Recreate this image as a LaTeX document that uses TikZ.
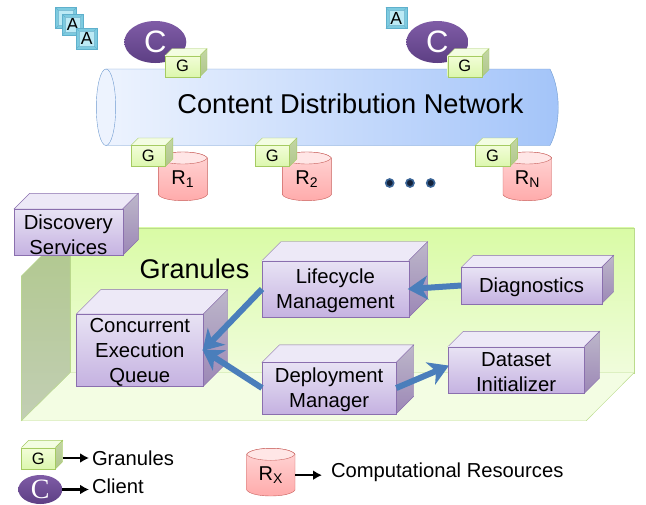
\documentclass[tikz,border=0pt]{standalone}
\usepackage{fontspec}
\setmainfont{Liberation Sans}
\newfontfamily\legendserif{Liberation Serif}
\usetikzlibrary{arrows.meta,shapes.geometric}

\definecolor{cubeline}{HTML}{8A6FAE}
\definecolor{gline}{HTML}{A5CB62}
\definecolor{redline}{HTML}{C8605C}
\definecolor{wallline}{HTML}{BBDB8C}
\definecolor{arrblue}{HTML}{4A7EBB}
\definecolor{tubeline}{HTML}{6F9BD0}
\definecolor{tubeleft}{HTML}{EDF3FE}
\definecolor{tuberight}{HTML}{A3C4F9}
\definecolor{clienttop}{HTML}{7F5CA6}
\definecolor{clientbot}{HTML}{5D3F84}
\definecolor{redtop}{HTML}{FFD8D8}
\definecolor{redbot}{HTML}{FFA9A9}
\definecolor{redcap}{HTML}{FFE6E6}
\definecolor{walltop}{HTML}{D9FBA5}
\definecolor{wallbot}{HTML}{F0FCDC}
\definecolor{floorfill}{HTML}{F3FDE3}
\definecolor{sidetop}{HTML}{B0C88C}
\definecolor{sidebot}{HTML}{C2CEB4}
\definecolor{dotblue}{HTML}{3A6496}
\definecolor{dotdark}{HTML}{14233C}

% name, left, top, right, bottom, depth, box colour, text
\newcommand{\cubenode}[8]{
  \filldraw[draw=#7line, fill=#7top] (#2,#3) -- (#2+#6,#3-#6) -- (#4+#6,#3-#6) -- (#4,#3) -- cycle;
  \shadedraw[draw=#7line, top color=#7sidea, bottom color=#7sideb] (#4,#3) -- (#4+#6,#3-#6) -- (#4+#6,#5-#6) -- (#4,#5) -- cycle;
  \node[cube=#7, minimum width={(#4-(#2))*1pt}, minimum height={(#5-(#3))*1pt}] (#1) at ({(#2+#4)/2},{(#3+#5)/2}) {};
  \node[#7text] (#1text) at (#1) {#8};
}
% name, left, top, width, height, text
\newcommand{\cylnode}[6]{
  \shadedraw[draw=redline, top color=redtop, bottom color=redbot]
    (#2,#3+6) -- (#2,#3+#5-6) .. controls (#2+5,#3+#5+2) and (#2+#4-5,#3+#5+2) .. (#2+#4,#3+#5-6)
    -- (#2+#4,#3+6) .. controls (#2+#4-5,#3-2) and (#2+5,#3-2) .. (#2,#3+6) -- cycle;
  \filldraw[draw=redline, fill=redcap] (#2,#3+6) .. controls (#2+5,#3-2) and (#2+#4-5,#3-2) .. (#2+#4,#3+6)
    .. controls (#2+#4-5,#3+14) and (#2+5,#3+14) .. (#2,#3+6) -- cycle;
  \node[cyl, minimum width=#4*1pt, minimum height=#5*1pt] (#1) at (#2+#4/2,#3+#5/2) {#6};
}
% name, centre x, centre y, text
\newcommand{\appnode}[4]{
  \node[appout] (#1) at (#2,#3) {};
  \node[appin] (#1in) at (#2,#3) {#4};
  \draw[draw=appline] (#1.north west) -- (#1in.north west) (#1.north east) -- (#1in.north east)
    (#1.south west) -- (#1in.south west) (#1.south east) -- (#1in.south east);
}

\colorlet{pboxline}{cubeline}
\definecolor{pboxtop}{HTML}{EDE9F7}
\definecolor{pboxsidea}{HTML}{BDB7CA}
\definecolor{pboxsideb}{HTML}{9C87B6}
\definecolor{pboxfronta}{HTML}{E8E3F4}
\definecolor{pboxfrontb}{HTML}{C5B2E1}
\colorlet{gboxline}{gline}
\definecolor{gboxtop}{HTML}{F3FDE2}
\definecolor{gboxsidea}{HTML}{C3D6A4}
\definecolor{gboxsideb}{HTML}{B0C68C}
\definecolor{gboxfronta}{HTML}{F2FDD8}
\definecolor{gboxfrontb}{HTML}{DCF7AE}
\definecolor{appline}{HTML}{5FB0CC}
\definecolor{appouter}{HTML}{7DCBE0}
\definecolor{appinner}{HTML}{BCEAF5}

\begin{document}
\begin{tikzpicture}[
  x=1pt, y=-1pt,
  cube/.style = {
    rectangle,
    draw=#1line,
    top color=#1fronta,
    bottom color=#1frontb,
    inner sep=0pt,
    outer sep=0pt
  },
  pboxtext/.style = {inner sep=0pt, align=center, yshift=-2.2pt, font=\fontsize{20.3}{25}\selectfont},
  gboxtext/.style = {inner sep=0pt, align=center, font=\fontsize{16.5}{17}\selectfont},
  big/.style = {font=\fontsize{20.2}{25}\selectfont},
  cyl/.style = {inner sep=0pt, outer sep=0pt, font=\fontsize{20}{22}\selectfont, yshift=-3pt},
  client/.style = {
    ellipse,
    draw=none,
    top color=clienttop,
    bottom color=clientbot,
    text=white,
    inner sep=0pt,
    outer sep=0pt,
    font=\fontsize{31}{31}\selectfont
  },
  appout/.style = {rectangle, draw=appline, fill=appouter, minimum size=21pt, inner sep=0pt, outer sep=0pt},
  appin/.style = {rectangle, draw=appline!80!white, fill=appinner, minimum size=15pt, inner sep=0pt, outer sep=0pt, font=\fontsize{17.5}{17.5}\selectfont},
  thick arr/.style = {line width=6pt, draw=arrblue, -{Stealth[length=20pt, width=24pt, inset=6pt]}, shorten >=-1pt},
  leg arr/.style = {line width=2.2pt, -{Latex[length=9pt, width=10pt]}},
  plain/.style = {inner sep=0pt, outer sep=0pt}
  ]
  \useasboundingbox (0,0) rectangle (646,504);

  % apps and clients
  \appnode{appa}{66}{18}{}
  \appnode{appb}{72.7}{24.7}{A}
  \appnode{appc}{86.7}{38.5}{A}
  \appnode{appd}{396.3}{18}{A}
  \node[client, minimum width=62pt, minimum height=42pt] (clienta) at (155.3,42) {C};
  \node[client, minimum width=62pt, minimum height=42pt] (clientb) at (437.3,42) {C};

  % network tube
  \shadedraw[draw=tubeline, left color=tubeleft, right color=tuberight]
    (106,69) -- (550,69) .. controls (561,90) and (561,125) .. (550,145.5) -- (106,145.5) -- cycle;
  \filldraw[draw=tubeline, fill=tubeleft] (106,107.25) ellipse [x radius=9.7, y radius=38.25];
  \node[plain, font=\fontsize{27.2}{30}\selectfont] (cdn) at (350.5,104) {Content Distribution Network};

  % resources
  \cylnode{resa}{158.3}{152}{49}{48.7}{R\textsubscript{1}}
  \cylnode{resb}{282.3}{152}{49}{48.7}{R\textsubscript{2}}
  \cylnode{resn}{503}{152}{48.7}{48.7}{R\textsubscript{N}}
  \foreach \dotx/\dotname in {389.7/dota, 410/dotb, 430.7/dotc}
    \node[circle, draw=dotblue, line width=1.6pt, fill=dotdark, minimum size=8pt, inner sep=0pt] (\dotname) at (\dotx,183) {};

  % gateways
  \cubenode{ga}{165}{55.7}{200}{76.7}{7}{gbox}{G}
  \cubenode{gb}{447.7}{55.7}{482}{76.7}{7}{gbox}{G}
  \cubenode{gc}{131}{145.3}{165.5}{166.3}{7.3}{gbox}{G}
  \cubenode{gd}{255}{145.3}{289.5}{166.3}{7.3}{gbox}{G}
  \cubenode{ge}{475.3}{145.3}{510}{166.3}{7.3}{gbox}{G}

  % granules platform
  \shadedraw[draw=wallline, top color=walltop, bottom color=wallbot]
    (70,227.7) -- (634,227.7) -- (634,372.7) -- (70,372.7) -- cycle;
  \filldraw[draw=wallline, fill=floorfill]
    (70,372.7) -- (634,372.7) -- (586.3,420.7) -- (21.3,420.7) -- cycle;
  \shadedraw[draw=wallline, top color=sidetop, bottom color=sidebot]
    (70,227.7) -- (21.3,276) -- (21.3,420.7) -- (70,372.7) -- cycle;
  \node[plain, font=\fontsize{27}{30}\selectfont] (granules) at (194.5,269) {Granules};

  \cubenode{discovery}{14}{209}{122.7}{255.3}{15.7}{pbox}{Discovery\\Services}
  \cubenode{queue}{76.3}{314}{203.3}{386.3}{24.4}{pbox}{Concurrent\\Execution\\Queue}
  \cubenode{lifecycle}{262}{260.7}{408.7}{317.3}{19}{pbox}{Lifecycle\\Management}
  \cubenode{deploy}{262}{362.3}{396.3}{413.7}{17.4}{pbox}{Deployment\\Manager}
  \cubenode{diag}{461.3}{267.3}{601.7}{303.7}{12}{pbox}{Diagnostics}
  \cubenode{dataset}{448}{346.7}{584.3}{393.3}{15.4}{pbox}{Dataset\\Initializer}

  \draw[thick arr] (lifecycle.west) -- (queue.east);
  \draw[thick arr] (deploy.west) -- (queue.east);
  \draw[thick arr] (diag.west) -- (lifecycle.east);
  \draw[thick arr] (deploy.east) -- ([yshift=4pt]dataset.west);

  % legend
  \cubenode{legg}{21.3}{447.7}{55.3}{469}{7.3}{gbox}{G}
  \node[client, minimum width=44pt, minimum height=29pt, font=\fontsize{28}{28}\legendserif] (legc) at (40.3,489.5) {C};
  \cylnode{legr}{246.7}{448.3}{48.3}{47.7}{R\textsubscript{X}}
  \node[plain, anchor=west, big] (leggtext) at (92,458) {Granules};
  \node[plain, anchor=west, big] (legctext) at (92,486) {Client};
  \node[plain, anchor=west, big] (legrtext) at (331,472) {Computational Resources};
  \coordinate (leggout) at (62.6,458);
  \draw[leg arr, shorten >=3pt] (leggout) -- (leggtext.west);
  \draw[leg arr, shorten >=3pt] (legc.east) -- (legctext.west |- legc.east);
  \draw[leg arr, shorten >=9pt] (legr.east) -- (legrtext.west |- legr.east);
\end{tikzpicture}
\end{document}
